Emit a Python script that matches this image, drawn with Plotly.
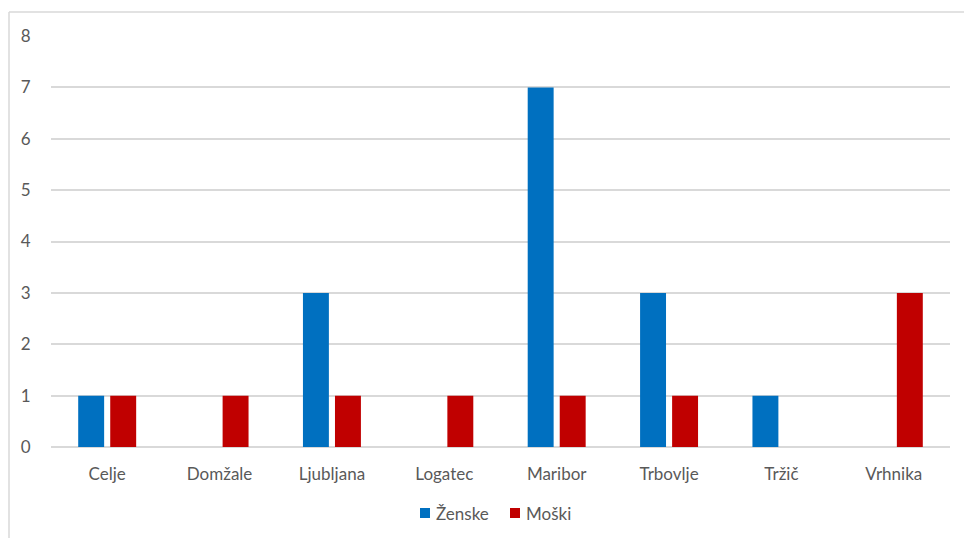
import plotly.graph_objects as go

# Number of persons by town, split by gender
towns = ["Celje", "Domžale", "Ljubljana", "Logatec", "Maribor", "Trbovlje", "Tržič", "Vrhnika"]
zenske = [1, 0, 3, 0, 7, 3, 1, 0]
moski = [1, 1, 1, 1, 1, 1, 0, 3]
y_ticks = [0, 1, 2, 3, 4, 5, 6, 7, 8]
series_names = ["Ženske", "Moški"]
series_colors = ["#0070C0", "#C00000"]

W, H = 964, 538
ML, MR, MT, MB = 51, 14, 36, 91
plot_w = W - ML - MR
plot_h = H - MT - MB


def px_x(px):
    return (px - ML) / plot_w


def px_y(py):
    return (H - MB - py) / plot_h


fig = go.Figure()
for name, vals, col in zip(series_names, [zenske, moski], series_colors):
    fig.add_trace(go.Bar(name=name, x=towns, y=vals, marker_color=col,
                         marker_line_width=0, showlegend=False))

# outer frame of the chart area
fig.add_shape(type="line", xref="paper", yref="paper", x0=px_x(9), x1=1.2,
              y0=px_y(12), y1=px_y(12), line=dict(color="#D9D9D9", width=1.5))
fig.add_shape(type="line", xref="paper", yref="paper", x0=px_x(9), x1=px_x(9),
              y0=px_y(12), y1=-0.5, line=dict(color="#D9D9D9", width=1.5))

# legend: colored square + label, centred under the plot
legend_y = 513
for (sq_left, name, col) in zip([420, 510], series_names, series_colors):
    fig.add_shape(type="rect", xref="paper", yref="paper",
                  x0=px_x(sq_left), x1=px_x(sq_left + 10),
                  y0=px_y(legend_y + 5), y1=px_y(legend_y - 5),
                  fillcolor=col, line_width=0)
    fig.add_annotation(xref="paper", yref="paper", x=px_x(sq_left + 14), y=px_y(legend_y),
                       xanchor="left", yanchor="middle", text=name, showarrow=False,
                       font=dict(size=17, color="#595959"))

fig.update_layout(
    width=W, height=H,
    margin=dict(l=ML, r=MR, t=MT, b=MB, autoexpand=False),
    paper_bgcolor="white", plot_bgcolor="white",
    barmode="group", bargap=0.43, bargroupgap=0.19,
    font=dict(family="Lato, 'Open Sans', sans-serif", size=17, color="#595959"),
    showlegend=False,
    xaxis=dict(showgrid=False, showline=False, ticks="outside", ticklen=12,
               tickcolor="rgba(0,0,0,0)", tickfont=dict(size=17, color="#595959")),
    yaxis=dict(range=[0, 8], tickvals=y_ticks, showgrid=True, gridcolor="#D9D9D9",
               gridwidth=1.5, zeroline=True, zerolinecolor="#D9D9D9", zerolinewidth=1.5,
               showline=False, ticks="outside", ticklen=16, tickcolor="rgba(0,0,0,0)",
               tickfont=dict(size=17, color="#595959")),
)

fig.write_html("out.html")
